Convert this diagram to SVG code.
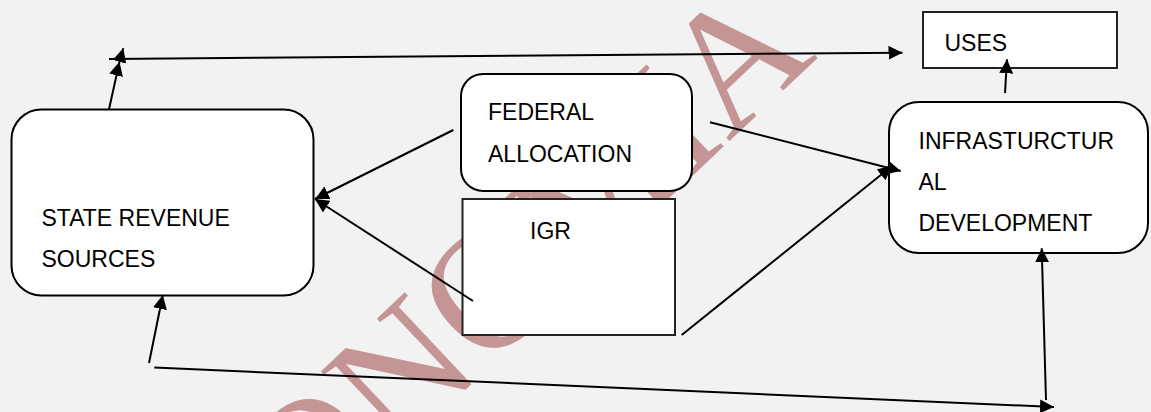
<svg xmlns="http://www.w3.org/2000/svg" width="1151" height="412" viewBox="0 0 1151 412">
<style>
.box{fill:#fff;stroke:#000;stroke-width:2}
.sq{fill:#fff;stroke:#222;stroke-width:2}
.lbl{font-family:"Liberation Sans",Arial,sans-serif;font-size:23px;fill:#000}
.wm{font-family:"Liberation Serif","Times New Roman",serif;font-size:172px;fill:#c59595}
.c{fill:none;stroke:#000;stroke-width:2}
</style>
<defs>
<marker id="ah" viewBox="0 0 14 14" refX="14" refY="7" markerWidth="14" markerHeight="14" markerUnits="userSpaceOnUse" orient="auto"><path d="M0,0 L14,7 L0,14 z" fill="#000"/></marker>
</defs>
<rect x="0" y="0" width="1151" height="412" fill="#f2f2f2"/>
<text class="wm" transform="translate(304,542) rotate(-43.3)">ONOMIA</text>
<g id="state-revenue-sources">
<rect class="box" x="11.5" y="109.5" width="302" height="186" rx="30"/>
<text class="lbl" x="41.5" y="226">STATE REVENUE</text>
<text class="lbl" x="41.5" y="266.5">SOURCES</text>
</g>
<g id="federal-allocation">
<rect class="box" x="461" y="74" width="231" height="117" rx="22"/>
<text class="lbl" x="488" y="120">FEDERAL</text>
<text class="lbl" x="488" y="161.5">ALLOCATION</text>
</g>
<g id="igr">
<rect class="sq" x="462.5" y="199" width="212.5" height="136"/>
<text class="lbl" x="530" y="238.5">IGR</text>
</g>
<g id="uses">
<rect class="sq" x="923" y="12" width="194" height="56"/>
<text class="lbl" x="944.5" y="51">USES</text>
</g>
<g id="infrastructural-development">
<rect class="box" x="889" y="102" width="259" height="151" rx="30"/>
<text class="lbl" x="918.5" y="149">INFRASTURCTUR</text>
<text class="lbl" x="918.5" y="190">AL</text>
<text class="lbl" x="918.5" y="231">DEVELOPMENT</text>
</g>
<g id="connectors">
<polyline class="c" points="109,109.3 119.5,61.7 123.3,48.3" marker-mid="url(#ah)" marker-end="url(#ah)"/>
<line class="c" x1="109" y1="59" x2="902.5" y2="52.7" marker-end="url(#ah)"/>
<line class="c" x1="1005" y1="93" x2="1007" y2="59.3" marker-end="url(#ah)"/>
<line class="c" x1="453.3" y1="130" x2="315" y2="199" marker-end="url(#ah)"/>
<line class="c" x1="473" y1="301" x2="315" y2="199" marker-end="url(#ah)"/>
<line class="c" x1="710" y1="122.3" x2="900.7" y2="171" marker-end="url(#ah)"/>
<line class="c" x1="681.7" y1="335" x2="892" y2="166" marker-end="url(#ah)"/>
<line class="c" x1="149" y1="363" x2="162.8" y2="295" marker-end="url(#ah)"/>
<line class="c" x1="154.3" y1="367.5" x2="1054" y2="407" marker-end="url(#ah)"/>
<line class="c" x1="1046" y1="400" x2="1041.7" y2="248.3" marker-end="url(#ah)"/>
</g>
</svg>
